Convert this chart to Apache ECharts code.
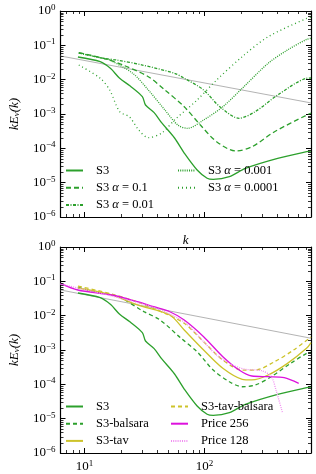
<!DOCTYPE html>
<html>
<head>
<meta charset="utf-8">
<script src="https://cdn.jsdelivr.net/npm/echarts@6/dist/echarts.min.js"></script>
<style>html,body{margin:0;padding:0;background:#fff}#c{width:316px;height:474px}</style>
</head>
<body>
<div id="c"></div>
<script>
// ---- data (k, k E_v(k)) ----
const refTop = [[6.3, 0.049], [771, 0.0021]];
const refBottom = [[6.3, 0.056], [771, 0.0022]];

const s3 = [[8.8,0.0457],[13.5,0.0334],[16.5,0.021],[19.5,0.0112],[24,0.0065],[30.3,0.0032],[32.2,0.00183],[38,0.0011],[44,0.00055],[56.2,0.0002],[67.7,7.3e-5],[86.7,2.34e-5],[105,1.35e-5],[118,1.25e-5],[161,1.49e-5],[219,2.62e-5],[407,5.12e-5],[711,7.97e-5],[771,8.3e-5]];
const s3a01 = [[8.95,0.061],[14.4,0.0419],[20.9,0.0267],[34,0.0122],[46.7,0.005],[67.7,0.00163],[92.3,4.78e-4],[126,1.56e-4],[182,8.36e-5],[248,1.11e-4],[383,3.05e-4],[711,9.35e-4],[771,1.07e-3]];
const s3a001 = [[8.95,0.0598],[14.4,0.0419],[18.5,0.0374],[30.3,0.0267],[56.2,0.0153],[67.7,0.011],[98.2,0.005],[134,0.00163],[194,7.5e-4],[264,1.17e-3],[407,3.57e-3],[711,0.011],[771,0.0112]];
const s3a0001 = [[8.95,0.0598],[14.4,0.0413],[16.2,0.0374],[25.2,0.0153],[34,0.005],[46.7,0.00131],[59.8,4.78e-4],[72,3.83e-4],[98.2,6.68e-4],[142,0.00163],[206,0.0056],[339,0.03],[491,0.0731],[711,0.15],[771,0.16]];
const s3a00001 = [[8.95,0.0267],[13.5,0.011],[16.2,0.005],[19.6,0.00117],[23.6,8.3e-4],[28.3,3.42e-4],[34,2.04e-4],[44,2.79e-4],[56.2,6.68e-4],[86.7,0.00256],[126,0.00977],[206,0.0467],[339,0.178],[711,0.612],[771,0.668]];

const s3b = [[8.8,0.067],[12.3,0.0499],[19.1,0.0357],[31.2,0.0131],[42.6,0.00748],[63.7,0.00219],[86.7,8.9e-4],[118,2.61e-4],[161,1.19e-4],[206,8.5e-5],[264,9.5e-5],[360,1.67e-4],[522,4.08e-4],[711,8.0e-4],[771,8.45e-4]];
const s3tav = [[8.8,0.064],[16.8,0.04],[27.6,0.0205],[51.3,0.01045],[67.7,0.00382],[98.2,0.001],[142,2.93e-4],[206,1.4e-4],[248,1.34e-4],[339,1.87e-4],[491,4.08e-4],[711,1.14e-3],[771,1.65e-3]];
const s3tavb = [[8.8,0.073],[16.8,0.0428],[27.6,0.025],[46.7,0.0117],[67.7,0.00598],[98.2,0.00174],[142,5.1e-4],[206,2.61e-4],[264,2.61e-4],[383,4.56e-4],[552,0.001],[771,0.00239]];
const price256 = [[6.28,0.0875],[8.8,0.0559],[16.8,0.04],[27.6,0.0255],[37.6,0.0182],[51.3,0.013],[67.7,0.00746],[98.2,0.00244],[142,6.37e-4],[194,2.61e-4],[248,1.75e-4],[339,1.67e-4],[461,1.56e-4],[609,1.07e-4]];
const price128 = [[6.28,0.0836],[16.8,0.0374],[38.8,0.0167],[67.7,0.0065],[98.2,0.00174],[126,7.1e-4],[171,3.65e-4],[220,2.74e-4],[300,2.49e-4],[360,1.67e-4],[394,6.8e-5],[446,1.49e-5]];

// ---- tick labels / minor ticks ----
const xMinorTicks = [7,8,9,20,30,40,50,60,70,80,90,200,300,400,500,600,700];
const minorMult = [2,3,4,5,6,7,8,9];
const yDecades = [-6,-5,-4,-3,-2,-1];

const FONT = '"Liberation Serif","DejaVu Serif",serif';
const GREEN = '#2ca02c', YELLOW = '#cdc32a', MAG = '#dd11dd', PINK = '#f08cf0', GRAY = '#aaaaaa';

const yMinorTicks = [];
yDecades.forEach(d => minorMult.forEach(m => yMinorTicks.push(m * Math.pow(10, d))));
const tickData = xMinorTicks.map(v => [v, 1e-3, 0]).concat(yMinorTicks.map(v => [10, v, 1]));

function supLabel(v) {
  const e = Math.round(Math.log10(v));
  return '{b|10}{s|' + (e < 0 ? '\u2212' + (-e) : e) + '}';
}
const labRich = {
  b: {fontFamily: FONT, fontSize: 13, color: '#000', lineHeight: 16},
  s: {fontFamily: FONT, fontSize: 9, color: '#000', lineHeight: 16, verticalAlign: 'top', padding: [0,0,6,0]}
};

function xAx(grid, pos, labels, name) {
  return {
    type: 'log', logBase: 10, gridIndex: grid, position: pos, min: 6.3, max: 771,
    axisLine: {show: true, lineStyle: {color: '#000', width: 1.2}},
    axisTick: {show: true, inside: true, length: 5, lineStyle: {color: '#000', width: 1}},
    splitLine: {show: false},
    axisLabel: {show: labels, showMinLabel: false, showMaxLabel: false, margin: 6, formatter: supLabel, rich: labRich},
    name: name || '', nameLocation: 'middle', nameGap: 17,
    nameTextStyle: {fontFamily: FONT, fontStyle: 'italic', fontSize: 13, color: '#000'}
  };
}
function yAx(grid, pos, labels) {
  return {
    type: 'log', logBase: 10, gridIndex: grid, position: pos, min: 1e-6, max: 1, interval: 1, splitNumber: 6,
    axisLine: {show: true, lineStyle: {color: '#000', width: 1.2}},
    axisTick: {show: true, inside: true, length: 5, lineStyle: {color: '#000', width: 1}},
    splitLine: {show: false},
    axisLabel: {show: labels, margin: 5, formatter: supLabel, rich: labRich},
    name: labels ? '{i|kE}{sub|v}{i|(k)}' : '', nameLocation: 'middle', nameGap: 39, nameRotate: 90,
    nameTextStyle: {fontFamily: FONT, fontSize: 13, color: '#000', rich: {
      i: {fontFamily: FONT, fontStyle: 'italic', fontSize: 13},
      sub: {fontFamily: FONT, fontStyle: 'italic', fontSize: 9, verticalAlign: 'bottom', padding: [5,0,0,0]}
    }}
  };
}

function line(name, data, color, type, xi, extra) {
  return Object.assign({
    name: name, type: 'line', data: data, xAxisIndex: xi, yAxisIndex: xi,
    showSymbol: false, symbol: 'none', smooth: 0.3, animation: false, z: 3,
    lineStyle: {color: color, width: 1.3, type: type},
    itemStyle: {color: color}
  }, extra || {});
}

function tickSeries(ai) {
  return {
    type: 'custom', xAxisIndex: ai, yAxisIndex: ai, data: tickData, silent: true, animation: false, z: 5,
    renderItem: function (params, api) {
      const cs = params.coordSys;
      const kind = api.value(2);
      const st = {stroke: '#000', lineWidth: 0.8};
      if (kind === 0) {
        const x = Math.round(api.coord([api.value(0), 1e-3])[0]) + 0.5;
        return {type: 'group', children: [
          {type: 'line', shape: {x1: x, y1: cs.y + cs.height, x2: x, y2: cs.y + cs.height - 3}, style: st},
          {type: 'line', shape: {x1: x, y1: cs.y, x2: x, y2: cs.y + 3}, style: st}
        ]};
      }
      const y = Math.round(api.coord([10, api.value(1)])[1]) + 0.5;
      return {type: 'group', children: [
        {type: 'line', shape: {x1: cs.x, y1: y, x2: cs.x + 3, y2: y}, style: st},
        {type: 'line', shape: {x1: cs.x + cs.width, y1: y, x2: cs.x + cs.width - 3, y2: y}, style: st}
      ]};
    }
  };
}

function legend(data, left, top) {
  return {
    data: data, left: left, top: top, orient: 'vertical', padding: 0,
    itemWidth: 17, itemHeight: 12, itemGap: 4.2, selectedMode: false,
    itemStyle: {opacity: 0},
    formatter: n => n.replace('\u03b1', '{i|\u03b1}'),
    textStyle: {fontFamily: FONT, fontSize: 12.5, color: '#000', padding: [0,0,0,8],
      rich: {i: {fontFamily: FONT, fontStyle: 'italic', fontSize: 12.5}}}
  };
}

const chart = echarts.init(document.getElementById('c'), null, {renderer: 'canvas'});
chart.setOption({
  animation: false,
  backgroundColor: '#fff',
  grid: [
    {left: 52, top: 11, width: 259, height: 206},
    {left: 52, top: 247, width: 259, height: 206}
  ],
  xAxis: [xAx(0, 'bottom', false, 'k'), xAx(0, 'top', false), xAx(1, 'bottom', true), xAx(1, 'top', false)],
  yAxis: [yAx(0, 'left', true), yAx(0, 'right', false), yAx(1, 'left', true), yAx(1, 'right', false)],
  legend: [
    legend(['S3', 'S3 \u03b1 = 0.1', 'S3 \u03b1 = 0.01'], 65, 164),
    legend(['S3 \u03b1 = 0.001', 'S3 \u03b1 = 0.0001'], 177, 164),
    legend(['S3', 'S3-balsara', 'S3-tav'], 65, 400),
    legend(['S3-tav-balsara', 'Price 256', 'Price 128'], 170, 400)
  ],
  series: [
    line('ref', refTop, GRAY, 'solid', 0, {smooth: false, lineStyle: {color: GRAY, width: 0.9}, z: 2}),
    line('S3', s3, GREEN, 'solid', 0),
    line('S3 \u03b1 = 0.1', s3a01, GREEN, [5, 3], 0),
    line('S3 \u03b1 = 0.01', s3a001, GREEN, [3, 1.5, 1, 1.5], 0),
    line('S3 \u03b1 = 0.001', s3a0001, GREEN, [1, 1.2], 0),
    line('S3 \u03b1 = 0.0001', s3a00001, GREEN, [1, 3], 0),
    line('ref2', refBottom, GRAY, 'solid', 2, {smooth: false, lineStyle: {color: GRAY, width: 0.9}, z: 2}),
    line('S3', s3, GREEN, 'solid', 2),
    line('S3-balsara', s3b, GREEN, [4, 3], 2),
    line('S3-tav', s3tav, YELLOW, 'solid', 2),
    line('S3-tav-balsara', s3tavb, YELLOW, [4, 3], 2),
    line('Price 256', price256, MAG, 'solid', 2),
    line('Price 128', price128, PINK, [1, 1.2], 2),
    tickSeries(0),
    tickSeries(2)
  ]
});
</script>
</body>
</html>
